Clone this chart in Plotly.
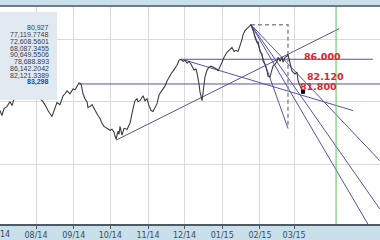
import pandas as pd
import plotly.graph_objects as go

# ---------------- data ----------------
base = pd.Timestamp("2014-07-01")

# price vertices: days since 2014-07-01 and close price
price_day = [1.4, 3.0, 4.7, 7.1, 9.6, 11.3, 12.9, 16.2, 19.5, 22.8, 26.0, 29.3, 32.6, 35.1,
             36.7, 39.2, 40.8, 44.1, 46.6, 48.2, 50.7, 53.2, 54.8, 56.5, 58.9, 61.4, 63.0,
             64.7, 66.3, 68.0, 69.6, 71.2, 72.9, 73.7, 75.3, 77.0, 78.6, 80.3, 81.9, 83.6,
             85.2, 86.9, 89.3, 91.8, 93.4, 95.1, 96.7, 98.4, 99.2, 100.0, 101.6, 103.3,
             105.8, 108.2, 110.7, 112.3, 114.0, 114.8, 116.4, 118.9, 120.5, 122.2, 123.8,
             125.5, 127.1, 128.8, 130.4, 132.1, 133.7, 135.3, 137.0, 138.6, 140.3, 141.9,
             143.6, 145.2, 146.8, 148.5, 150.1, 151.8, 153.4, 155.1, 156.7, 158.3, 159.2,
             160.8, 162.4, 163.3, 164.9, 165.7, 167.4, 168.2, 169.8, 171.5, 173.1, 174.8,
             176.4, 178.1, 179.7, 180.5, 182.2, 183.8, 185.5, 187.9, 190.4, 192.0, 193.7,
             195.3, 197.0, 198.6, 200.2, 201.1, 202.7, 205.2, 206.8, 207.6, 209.3, 210.9,
             212.6, 213.4, 215.0, 216.7, 217.5, 219.1, 220.8, 221.6, 223.2, 224.9, 225.7,
             227.4, 229.0, 229.8, 231.5, 233.1, 233.9, 235.6, 237.2, 238.0, 239.7, 241.3,
             242.2, 243.8, 245.4, 246.3, 247.9, 249.5, 250.4]
price_close = [77.94, 77.17, 78.25, 78.56, 79.34, 78.72, 79.80, 80.58, 81.04, 80.42, 81.35,
               80.73, 80.27, 79.80, 79.34, 78.56, 77.94, 77.01, 78.25, 79.18, 78.87, 80.27,
               80.58, 81.04, 80.58, 81.35, 81.20, 81.82, 82.28, 82.12, 80.58, 79.80, 79.34,
               78.41, 78.56, 78.87, 78.25, 77.79, 77.17, 76.70, 75.93, 75.46, 75.15, 74.84,
               75.00, 74.53, 73.45, 74.69, 74.22, 75.46, 74.07, 75.15, 75.00, 75.93, 78.25,
               79.49, 79.80, 79.34, 79.49, 80.27, 79.49, 79.80, 78.72, 77.94, 77.79, 78.56,
               79.03, 80.42, 80.89, 81.20, 81.82, 82.59, 83.21, 83.68, 84.14, 84.61, 85.07,
               85.85, 86.00, 85.69, 85.85, 85.38, 85.69, 85.23, 84.92, 84.30, 84.45, 83.83,
               82.12, 80.89, 79.49, 80.89, 83.21, 84.30, 84.76, 84.92, 84.76, 84.61, 84.45,
               84.14, 84.76, 85.54, 86.31, 87.09, 87.55, 87.86, 87.24, 87.40, 87.24, 88.02,
               89.10, 89.88, 90.50, 90.96, 91.27, 91.43, 90.65, 89.41, 88.64, 88.79, 87.24,
               86.78, 85.69, 85.23, 84.14, 83.37, 83.21, 84.14, 84.92, 85.23, 85.69, 86.31,
               85.69, 86.31, 85.54, 86.31, 86.47, 86.78, 85.54, 84.14, 83.99, 83.68, 83.99,
               82.59, 81.82, 81.04, 80.89]

# drawn study lines: (day0, price0, day1, price1)
trend_lines = [
    (96.7, 73.29, 280.0, 90.81),    # rising support line
    (153.4, 85.85, 291.5, 77.94),   # falling line from December top
    (150.1, 86.00, 307.9, 86.00),   # horizontal 86.000
    (66.3, 82.12, 313.6, 82.12),    # horizontal 82.120
    (207.6, 91.43, 238.0, 75.15),   # fan lines from the top
    (207.6, 91.43, 313.6, 56.86),
    (207.6, 91.43, 313.6, 62.44),
    (207.6, 91.43, 313.6, 70.03),
]
box_day = [207.6, 238.0, 238.0]
box_price = [91.43, 91.43, 75.15]
vline_day = 277.5
marker_day, marker_price = 250.4, 80.89

level_labels = ["86.000", "82.120", "81.800"]
level_label_day = [266.0, 268.9, 262.7]
level_label_price = [86.47, 83.37, 81.66]

info_values = ["80,927", "77,119.7748", "72,608.5601", "68,087.3455", "90,649.5506",
               "78,688.893", "86,142.2042", "82,121.3389", "83,298"]

month_ticks = pd.date_range("2014-07-01", "2015-03-01", freq="MS")
month_labels = ["07/14", "08/14", "09/14", "10/14", "11/14", "12/14", "01/15", "02/15", "03/15"]
h_grid = [69.41, 79.34, 89.10]

x_start, x_end = 1.4, 313.6
y_min, y_max = 60.115, 94.215


def to_date(d):
    return base + pd.Timedelta(days=d)


# ---------------- figure ----------------
LINE = "#5454a6"
fig = go.Figure()

for d0, p0, d1, p1 in trend_lines:
    fig.add_trace(go.Scatter(x=[to_date(d0), to_date(d1)], y=[p0, p1], mode="lines",
                             line=dict(color=LINE, width=1), hoverinfo="skip"))

fig.add_trace(go.Scatter(x=[to_date(d) for d in box_day], y=box_price, mode="lines",
                         line=dict(color="#8c8c8c", width=1.5, dash="4px,3px"), hoverinfo="skip"))

fig.add_trace(go.Scatter(x=[to_date(vline_day)] * 2, y=[y_min, y_max], mode="lines",
                         line=dict(color="#5cc05c", width=1), hoverinfo="skip"))

fig.add_trace(go.Scatter(x=[to_date(d) for d in price_day], y=price_close, mode="lines",
                         line=dict(color="#3e3e3e", width=1.1), hoverinfo="skip"))

fig.add_trace(go.Scatter(x=[to_date(marker_day)], y=[marker_price], mode="markers",
                         marker=dict(symbol="square", size=4, color="#000000"), hoverinfo="skip"))

for txt, d, p in zip(level_labels, level_label_day, level_label_price):
    fig.add_annotation(x=to_date(d), y=p, text=f"<b>{txt}</b>", showarrow=False,
                       font=dict(family="DejaVu Sans", size=9.5, color="#e4222c"))

# info panel on the left
fig.add_shape(type="rect", xref="paper", yref="paper", x0=0, x1=57 / 380,
              y0=(227 - 101) / 220, y1=(227 - 12) / 220,
              fillcolor="#dfe9ef", line=dict(width=0), layer="above")
for i, v in enumerate(info_values):
    last = i == len(info_values) - 1
    fig.add_annotation(xref="paper", yref="paper", x=51 / 380,
                       y=(227 - (28 + 6.9 * i)) / 220, xanchor="right", yanchor="middle",
                       text=f"<b>{v}</b>" if last else v, showarrow=False,
                       font=dict(family="Liberation Sans", size=7,
                                 color="#2a3cc8" if last else "#3a4050"))

# first month label, whose tick falls on the left edge (cut there, as in the original)
fig.add_annotation(xref="paper", yref="paper", x=-1.7 / 380, y=-10.5 / 220,
                   xanchor="center", yanchor="middle", text=month_labels[0], showarrow=False,
                   font=dict(family="DejaVu Sans", size=8, color="#3e4c5a"))

# top dark rule
fig.add_shape(type="line", xref="paper", yref="paper", x0=0, x1=1,
              y0=1 + 1 / 220, y1=1 + 1 / 220, line=dict(color="#4e5a64", width=1.5))

fig.update_layout(
    width=380, height=240,
    margin=dict(l=0, r=0, t=7, b=13),
    paper_bgcolor="#c9dfea", plot_bgcolor="#ffffff",
    showlegend=False,
    xaxis=dict(type="date", range=[to_date(x_start), to_date(x_end)],
               tickvals=list(month_ticks), ticktext=month_labels,
               showgrid=True, gridcolor="#dadada", gridwidth=1,
               ticks="outside", ticklen=3, tickcolor="#4e5a64",
               showline=True, linecolor="#4e5a64", linewidth=1.5,
               tickfont=dict(family="DejaVu Sans", size=8, color="#3e4c5a"),
               zeroline=False, fixedrange=True),
    yaxis=dict(range=[y_min, y_max], tickvals=h_grid, showticklabels=False,
               showgrid=True, gridcolor="#dadada", gridwidth=1, ticks="",
               zeroline=False, fixedrange=True),
)

fig.write_html("out.html")
